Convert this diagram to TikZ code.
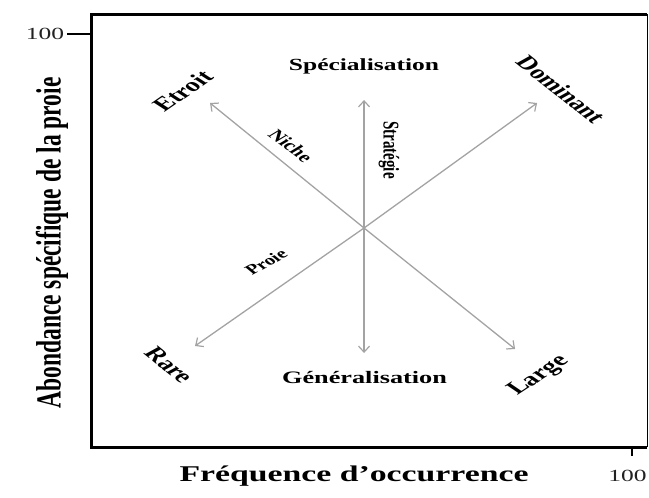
\documentclass[tikz,border=0pt]{standalone}
\usepackage{fontspec}
\setmainfont{Liberation Serif}
\usetikzlibrary{arrows.meta}
\definecolor{arrgray}{HTML}{A3A3A3}
\definecolor{ticktxt}{HTML}{222222}
\tikzset{
  lab/.style={font=\bfseries\fontsize{#1}{#1}\selectfont, inner sep=0pt, transform shape},
  numlab/.style={font=\fontsize{#1}{#1}\selectfont, text=ticktxt, inner sep=0pt, transform shape},
  arr/.style={draw=arrgray, line width=1.3pt, -{Straight Barb[length=6pt,width=11pt,line width=1.2pt]}},
  frame/.style={draw=black, line width=3pt},
}
\begin{document}
\begin{tikzpicture}[x=0.666667pt, y=-1pt, xscale=1.5]
\useasboundingbox (0,0) rectangle (649,498);
% frame
\draw[frame] (647,14) -- (91,14) -- (91,447) -- (647,447);
\draw[black, line width=0.8pt] (647,14) -- (647,447);
% ticks
\coordinate (ty1) at (67,34);
\coordinate (ty2) at (91,34);
\coordinate (tx1) at (632,447);
\coordinate (tx2) at (632,456);
\draw[black, line width=2.2pt] (ty1) -- (ty2);
\draw[black, line width=2.2pt] (tx1) -- (tx2);
\node[numlab=17] (y100) at (45,34) {100};
\node[numlab=17, anchor=west] (x100) at (608,476) {100};
% axis labels
\node[lab=22.5] (xlab) at (354,476) {Fréquence d\char"0027 occurrence};
\node[lab=23.5, rotate=90] (ylab) at (52,243) {Abondance spécifique de la proie};
% cross
\coordinate (c) at (364,228);
\coordinate (tS) at (364,100);
\coordinate (tG) at (364,353);
\coordinate (tE) at (210,103);
\coordinate (tD) at (537,103);
\coordinate (tR) at (195,346);
\coordinate (tL) at (515,349);
\draw[arr] (c) -- (tS);
\draw[arr] (c) -- (tG);
\draw[arr] (c) -- (tE);
\draw[arr] (c) -- (tD);
\draw[arr] (c) -- (tR);
\draw[arr] (c) -- (tL);
% labels
\node[lab=17] (spe) at (364,66) {Spécialisation};
\node[lab=17.5] (gen) at (364.5,378) {Généralisation};
\node[lab=19, rotate=46] (etr) at (182.5,91) {Etroit};
\node[lab=19, rotate=-50] (dom) at (561,89.5) {Dominant};
\node[lab=19, rotate=-50.5] (rar) at (169,365) {Rare};
\node[lab=19, rotate=44.5] (lar) at (539,376) {Large};
\node[lab=15, rotate=-48] (nic) at (291,146) {Niche};
\node[lab=14, rotate=39] (pro) at (266,262) {Proie};
\node[lab=15, rotate=-90] (str) at (389,150) {Stratégie};
\end{tikzpicture}
\end{document}
